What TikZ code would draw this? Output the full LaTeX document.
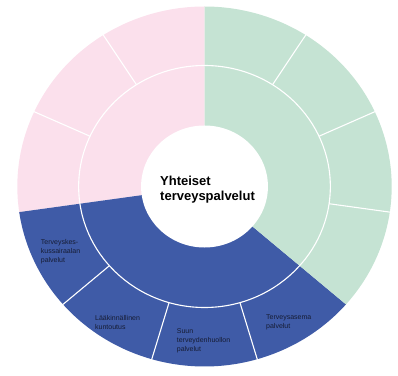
\documentclass[tikz,border=0pt]{standalone}
\usepackage{fontspec}
\setmainfont{Liberation Sans}
\definecolor{pinkc}{RGB}{251,224,236}
\definecolor{greenc}{RGB}{197,227,211}
\definecolor{bluec}{RGB}{63,91,167}
\definecolor{labc}{RGB}{22,28,52}
\begin{document}
\begin{tikzpicture}[x=1pt,y=1pt,
  sepline/.style={draw=white, line width=1.1pt},
  lab/.style={font=\fontsize{7}{9}\selectfont, align=left, anchor=west, inner sep=0pt, text=labc},
  titlestyle/.style={font=\fontsize{13}{15.5}\selectfont\bfseries, align=left, anchor=west, inner sep=0pt, text=black}]
\useasboundingbox (0,0) rectangle (398,375);
\begin{scope}[shift={(204.5,188.5)}, xscale=1.04]
  % inner ring sectors
  \fill[pinkc] (0,0) -- (90:121) arc[start angle=90, end angle=188.1818, radius=121] -- cycle;
  \fill[bluec] (0,0) -- (188.1818:121) arc[start angle=188.1818, end angle=319.0909, radius=121] -- cycle;
  \fill[greenc] (0,0) -- (319.0909:121) arc[start angle=319.0909, end angle=450, radius=121] -- cycle;
  % outer ring segments
  \foreach \i/\c in {0/pinkc,1/pinkc,2/pinkc,3/bluec,4/bluec,5/bluec,6/bluec,7/greenc,8/greenc,9/greenc,10/greenc} {
    \pgfmathsetmacro\a{90+\i*360/11}
    \pgfmathsetmacro\b{90+(\i+1)*360/11}
    \fill[\c] (\a:120) -- (\a:180) arc[start angle=\a, end angle=\b, radius=180] -- (\b:120) arc[start angle=\b, end angle=\a, radius=120] -- cycle;
  }
  % separators
  \draw[sepline] (0,0) circle[radius=121];
  \foreach \i in {1,2,4,5,6,8,9,10} {
    \pgfmathsetmacro\a{90+\i*360/11}
    \draw[sepline] (\a:121) -- (\a:181);
  }
  % hole
  \fill[white] (0,0) circle[radius=61];
\end{scope}
\node[titlestyle] (title) at (160,185.5) {Yhteiset\\terveyspalvelut};
\node[lab] (l1) at (40.7,123.5) {Terveyskes-\\kussairaalan\\palvelut};
\node[lab] (l2) at (95,52.5) {Lääkinnällinen\\kuntoutus};
\node[lab] (l3) at (176.7,34) {Suun\\terveydenhuollon\\palvelut};
\node[lab] (l4) at (266,53) {Terveysasema\\palvelut};
\end{tikzpicture}
\end{document}
